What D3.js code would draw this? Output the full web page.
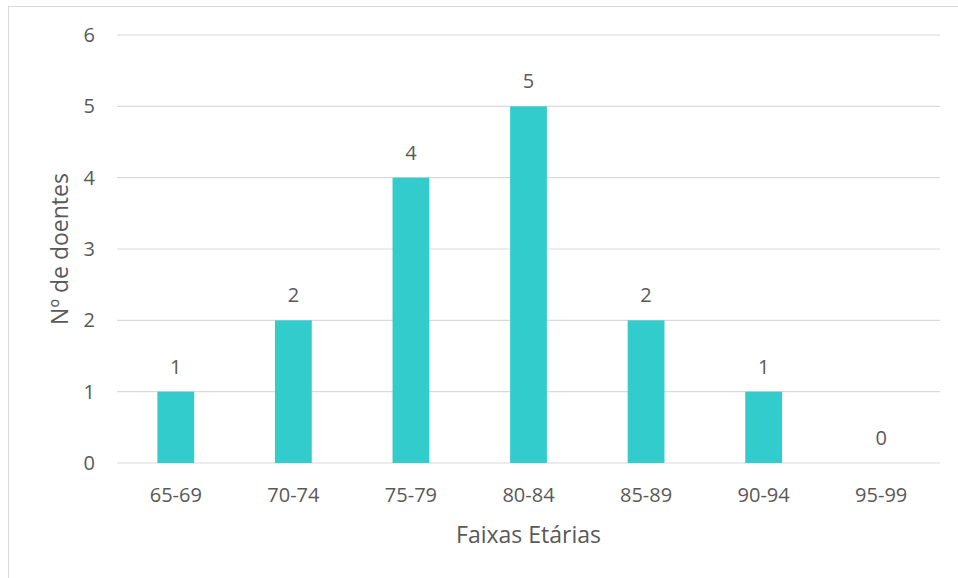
<!DOCTYPE html>
<html>
<head>
<meta charset="utf-8">
<script src="https://cdn.jsdelivr.net/npm/d3@7"></script>
<style>
  body { margin: 0; background: #fff; }
  svg text { font-family: "Open Sans", sans-serif; fill: #595959; }
</style>
</head>
<body>
<svg id="chart" width="958" height="578"></svg>
<script>
let faixas = ["65-69", "70-74", "75-79", "80-84", "85-89", "90-94", "95-99"];
let doentes = [1, 2, 4, 5, 2, 1, 0];
let yTicks = [0, 1, 2, 3, 4, 5, 6];

let svg = d3.select("#chart");

// moldura do gráfico
svg.append("rect")
    .attr("x", 8.5).attr("y", 6.5)
    .attr("width", 960).attr("height", 580)
    .attr("fill", "none")
    .attr("stroke", "#d9d9d9");

let plotLeft = 117, plotRight = 940, plotTop = 35, plotBottom = 463;

let xScale = d3.scaleBand().domain(faixas).range([plotLeft, plotRight]).paddingInner(0.687).paddingOuter(0.3435);
let yScale = d3.scaleLinear().domain([0, 6]).range([plotBottom, plotTop]);

// linhas de grelha
svg.append("g")
    .selectAll("line")
    .data(yTicks)
    .join("line")
    .attr("x1", plotLeft).attr("x2", plotRight)
    .attr("y1", d => yScale(d)).attr("y2", d => yScale(d))
    .attr("stroke", "#d9d9d9")
    .attr("stroke-width", 1.2);

let yAxis = d3.axisLeft(yScale).tickValues(yTicks).tickFormat(d3.format("d")).tickSize(0).tickPadding(22);
let yAxisGroup = svg.append("g")
    .attr("transform", `translate(${plotLeft},0)`)
    .call(yAxis);
yAxisGroup.select(".domain").remove();
yAxisGroup.selectAll("text").style("font-size", "20px").attr("fill", "#595959");

svg.append("g")
    .selectAll("rect")
    .data(doentes)
    .join("rect")
    .attr("x", (d, i) => xScale(faixas[i]))
    .attr("width", xScale.bandwidth())
    .attr("y", d => yScale(d))
    .attr("height", d => plotBottom - yScale(d))
    .attr("fill", "#33cccc");

// rótulos de valor
svg.append("g")
    .selectAll("text")
    .data(doentes)
    .join("text")
    .attr("x", (d, i) => xScale(faixas[i]) + xScale.bandwidth() / 2)
    .attr("y", d => yScale(d) - 18)
    .attr("text-anchor", "middle")
    .style("font-size", "20px")
    .text(d => d);

let xAxis = d3.axisBottom(xScale).tickSize(0).tickPadding(25);
let xAxisGroup = svg.append("g")
    .attr("transform", `translate(0,${plotBottom})`)
    .call(xAxis);
xAxisGroup.select(".domain").remove();
xAxisGroup.selectAll("text").style("font-size", "20px").attr("fill", "#595959");

svg.append("text")
    .attr("x", (plotLeft + plotRight) / 2)
    .attr("y", 543)
    .attr("text-anchor", "middle")
    .style("font-size", "23px")
    .text("Faixas Etárias");

svg.append("text")
    .attr("transform", `translate(68,${(plotTop + plotBottom) / 2}) rotate(-90)`)
    .attr("text-anchor", "middle")
    .style("font-size", "23px")
    .text("Nº de doentes");
</script>
</body>
</html>
